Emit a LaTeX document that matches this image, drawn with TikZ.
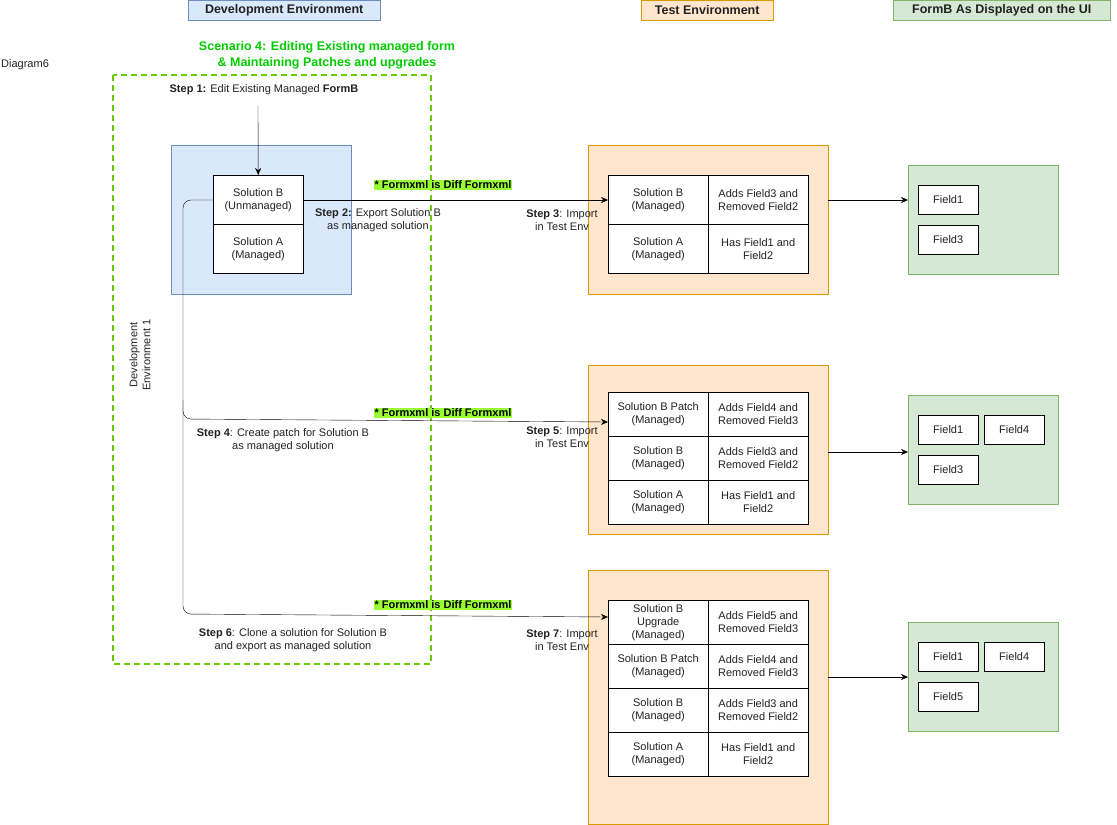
\documentclass[tikz,border=0pt]{standalone}
\usepackage{fontspec}
\setmainfont{Liberation Sans}
\usetikzlibrary{arrows.meta}
\definecolor{bfill}{HTML}{DAE8FC}\definecolor{bdraw}{HTML}{6C8EBF}
\definecolor{ofill}{HTML}{FFE6CC}\definecolor{odraw}{HTML}{D79B00}
\definecolor{gfill}{HTML}{D5E8D4}\definecolor{gdraw}{HTML}{82B366}
\definecolor{scen}{HTML}{00CC00}\definecolor{dashgreen}{HTML}{66CC00}
\definecolor{hl}{HTML}{99FF33}\definecolor{txt}{HTML}{222222}
\begin{document}
\begin{tikzpicture}[x=1pt,y=-1pt,
  every node/.style={font=\fontsize{11}{13}\selectfont, text=txt},
  hdr/.style={draw, font=\fontsize{12.5}{14}\selectfont\bfseries, inner sep=0pt, minimum height=20pt, anchor=north west},
  cell/.style={draw=black, fill=white, inner sep=0pt, align=center, anchor=north west, minimum width=100pt},
  fld/.style={draw=black, fill=white, minimum width=60pt, minimum height=29pt, inner sep=0pt, anchor=north west},
  lbl/.style={align=center, inner sep=0pt},
  hlt/.style={fill=hl, font=\fontsize{11}{13}\selectfont\bfseries, inner sep=1pt, text=black},
  arr/.style={-{Stealth[length=7pt,width=6pt]}, black},
  box/.style={anchor=north west, inner sep=0pt}]
\useasboundingbox (0,0) rectangle (1117,825);
% headers
\node[hdr, fill=bfill, draw=bdraw, minimum width=192pt] (h1) at (188,0) {Development Environment};
\node[hdr, fill=ofill, draw=odraw, minimum width=132pt] (h2) at (641,0) {Test Environment};
\node[hdr, fill=gfill, draw=gdraw, minimum width=217pt] (h3) at (893,0) {FormB As Displayed on the UI};
\node[anchor=west, inner sep=0pt] (d6) at (1,65) {Diagram6};
\node[lbl, text=scen, font=\fontsize{12.5}{16}\selectfont\bfseries] (sc) at (327,55) {Scenario 4: Editing Existing managed form\\ \& Maintaining Patches and upgrades};
\draw[dashgreen, dash pattern=on 6pt off 4pt, line width=1.5pt] (113,75) rectangle (431,664);
\node[lbl] (s1) at (264,90) {\textbf{Step 1:} Edit Existing Managed \textbf{FormB}};
% dev
\node[box, draw=bdraw, fill=bfill, minimum width=180pt, minimum height=149pt] (dev) at (171,145) {};
\node[cell, minimum width=90pt, minimum height=49pt] (sb) at (213,175) {Solution B\\(Unmanaged)};
\node[cell, minimum width=90pt, minimum height=49pt] (sa) at (213,224) {Solution A\\(Managed)};
\node[lbl, rotate=90] (de1) at (140,355) {Development\\Environment 1};
\coordinate (top1) at (258,106);
\draw[arr] (top1) -- (sb.north);
% test boxes
\node[box, draw=odraw, fill=ofill, minimum width=240pt, minimum height=149pt] (t1) at (588,145) {};
\node[cell, minimum height=49pt] (t1a) at (608,175) {Solution B\\(Managed)};
\node[cell, minimum height=49pt] (t1b) at (708,175) {Adds Field3 and\\Removed Field2};
\node[cell, minimum height=49pt] (t1c) at (608,224) {Solution A\\(Managed)};
\node[cell, minimum height=49pt] (t1d) at (708,224) {Has Field1 and\\Field2};
\node[box, draw=odraw, fill=ofill, minimum width=240pt, minimum height=169pt] (t2) at (588,365) {};
\node[cell, minimum height=44pt] (t2a) at (608,392) {Solution B Patch\\(Managed)};
\node[cell, minimum height=44pt] (t2b) at (708,392) {Adds Field4 and\\Removed Field3};
\node[cell, minimum height=44pt] (t2c) at (608,436) {Solution B\\(Managed)};
\node[cell, minimum height=44pt] (t2d) at (708,436) {Adds Field3 and\\Removed Field2};
\node[cell, minimum height=44pt] (t2e) at (608,480) {Solution A\\(Managed)};
\node[cell, minimum height=44pt] (t2f) at (708,480) {Has Field1 and\\Field2};
\node[box, draw=odraw, fill=ofill, minimum width=240pt, minimum height=254pt] (t3) at (588,570) {};
\node[cell, minimum height=44pt] (t3a) at (608,600) {Solution B\\Upgrade\\(Managed)};
\node[cell, minimum height=44pt] (t3b) at (708,600) {Adds Field5 and\\Removed Field3};
\node[cell, minimum height=44pt] (t3c) at (608,644) {Solution B Patch\\(Managed)};
\node[cell, minimum height=44pt] (t3d) at (708,644) {Adds Field4 and\\Removed Field3};
\node[cell, minimum height=44pt] (t3e) at (608,688) {Solution B\\(Managed)};
\node[cell, minimum height=44pt] (t3f) at (708,688) {Adds Field3 and\\Removed Field2};
\node[cell, minimum height=44pt] (t3g) at (608,732) {Solution A\\(Managed)};
\node[cell, minimum height=44pt] (t3h) at (708,732) {Has Field1 and\\Field2};
% UI boxes
\node[box, draw=gdraw, fill=gfill, minimum width=150pt, minimum height=109pt] (u1) at (908,165) {};
\node[fld] (u1a) at (918,185) {Field1};
\node[fld] (u1b) at (918,225) {Field3};
\node[box, draw=gdraw, fill=gfill, minimum width=150pt, minimum height=109pt] (u2) at (908,395) {};
\node[fld] (u2a) at (918,415) {Field1};
\node[fld] (u2b) at (984,415) {Field4};
\node[fld] (u2c) at (918,455) {Field3};
\node[box, draw=gdraw, fill=gfill, minimum width=150pt, minimum height=109pt] (u3) at (908,622) {};
\node[fld] (u3a) at (918,642) {Field1};
\node[fld] (u3b) at (984,642) {Field4};
\node[fld] (u3c) at (918,682) {Field5};
\draw[arr] (828,200) -- (u1.west |- 0,200);
\draw[arr] (828,452) -- (u2.west |- 0,452);
\draw[arr] (828,677) -- (u3.west |- 0,677);
% connectors
\coordinate (e2) at (608,200);
\coordinate (e4) at (608,422);
\coordinate (e6) at (608,617);
\draw[arr] (sb.east |- e2) -- (e2);
\draw[arr, rounded corners=8pt] (213,200) -- (183,200) -- (183,419) -- (e4);
\draw[arr, rounded corners=8pt] (183,400) -- (183,614) -- (e6);
% labels
\node[hlt] (f1) at (443,185) {* Formxml is Diff Formxml};
\node[hlt] (f2) at (443,413) {* Formxml is Diff Formxml};
\node[hlt] (f3) at (443,605) {* Formxml is Diff Formxml};
\node[lbl] (s2) at (378,220) {\textbf{Step 2:} Export Solution B\\as managed solution};
\node[lbl] (s3) at (562,220) {\textbf{Step 3}: Import\\in Test Env};
\node[lbl] (s4) at (283,440) {\textbf{Step 4}: Create patch for Solution B\\as managed solution};
\node[lbl] (s5) at (562,437) {\textbf{Step 5}: Import\\in Test Env};
\node[lbl] (s6) at (293,640) {\textbf{Step 6}: Clone a solution for Solution B\\and export as managed solution};
\node[lbl] (s7) at (562,640) {\textbf{Step 7}: Import\\in Test Env};
\end{tikzpicture}
\end{document}
